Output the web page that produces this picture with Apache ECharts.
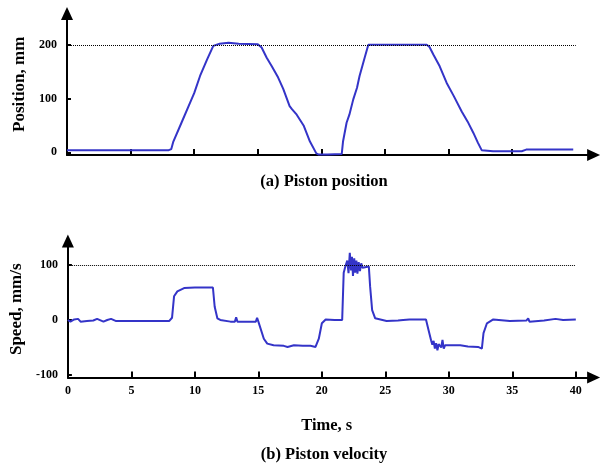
<!DOCTYPE html>
<html>
<head>
<meta charset="utf-8">
<script src="https://cdn.jsdelivr.net/npm/echarts@6/dist/echarts.min.js"></script>
<style>
html,body{margin:0;padding:0;background:#fff;}
#chart{width:612px;height:463px;}
</style>
</head>
<body>
<div id="chart"></div>
<script>
// ---- Data ----
const posTime = [0, 4, 8.0, 8.2, 8.36, 9.0, 9.67, 10.0, 10.46, 11.0, 11.5, 12.0, 12.7, 13.5, 15.0, 15.3, 15.7, 16.1, 16.6, 17.0, 17.5, 17.7, 18.06, 18.6, 19.1, 19.6, 19.76, 20.5, 21.6, 21.7, 21.98, 22.2, 22.5, 22.8, 23.0, 23.4, 23.69, 25, 28.28, 28.5, 28.8, 29.3, 29.85, 30.4, 31.03, 31.5, 31.95, 32.3, 32.6, 33.5, 35.75, 36.1, 39.8];
const posValue = [4, 4, 4, 6, 20, 55, 92, 110, 142, 172, 198, 202, 204, 202, 201, 195, 176, 160, 139, 118, 86, 80, 70, 50, 20, -2, -4, -4, -3, 20, 55, 70, 98, 120, 142, 176, 200, 200, 200, 196, 182, 160, 129, 105, 76, 57, 36, 18, 4, 2, 2, 5, 5];

const velTime = [0, 0.2, 0.5, 0.8, 1.0, 1.5, 2.0, 2.3, 2.8, 3.1, 3.4, 3.8, 5, 7.97, 8.2, 8.36, 8.62, 9.15, 10, 11.42, 11.56, 11.77, 12.0, 12.8, 13.15, 13.25, 13.35, 14.8, 14.9, 15.0, 15.43, 15.7, 16.2, 17.0, 17.3, 17.8, 18.5, 19.1, 19.5, 19.76, 20.0, 20.3, 21.0, 21.6, 21.72, 21.86, 22.0, 22.1, 22.2, 22.3, 22.37, 22.45, 22.55, 22.62, 22.72, 22.8, 22.9, 23.0, 23.1, 23.2, 23.3, 23.7, 23.8, 23.96, 24.2, 25.1, 26.0, 26.4, 26.9, 28.2, 28.4, 28.6, 28.7, 28.8, 28.9, 29.0, 29.1, 29.2, 29.4, 29.5, 29.6, 29.7, 29.85, 30.9, 31.5, 32.3, 32.6, 32.73, 33.0, 33.5, 34.8, 36.1, 36.25, 36.35, 37.5, 38.4, 39, 40];
const velValue = [0, -3, 1, 2, -3, -2, -1, 2, -3, 0, 2, -2, -2, -2, 4, 43, 52, 58, 59, 59, 24, 3, 0, -3, -3, 5, -3, -3, 4, -3, -34, -43, -46, -47, -49, -46, -47, -47, -49, -34, -6, 1, 0, 0, 86, 98, 108, 85, 122, 90, 115, 80, 112, 86, 108, 84, 105, 89, 103, 95, 97, 97, 61, 18, 3, -2, -1, 0, 1, 1, -18, -37, -45, -38, -52, -42, -55, -44, -50, -36, -52, -46, -47, -46, -48, -49, -52, -24, -6, 1, -2, -1, 3, -3, -1, 2, 0, 1];

const xTickValues = [0, 5, 10, 15, 20, 25, 30, 35, 40];
const topXTicks = [5, 10, 15, 20, 25, 30, 35];
const posTicks = [0, 100, 200];
const velTicks = [-100, 0, 100];
const posRef = 200;
const velRef = 100;

// ---- Chart ----
const FONT = 'Liberation Serif';
const lineColor = '#3434C8';
const axisLine = {
  show: true, onZero: false,
  symbol: ['none', 'triangle'], symbolSize: [12, 13],
  lineStyle: { color: '#000', width: 2 }
};
const nameStyle = { fontFamily: FONT, fontSize: 16.5, fontWeight: 'bold', color: '#000' };
function pairs(t, v) { return t.map((x, i) => [x, v[i]]); }

const chart = echarts.init(document.getElementById('chart'), null, { renderer: 'canvas' });
chart.setOption({
  animation: false,
  backgroundColor: '#fff',
  textStyle: { fontFamily: FONT },
  title: [
    { text: '(a) Piston position', left: 319, top: 168, textAlign: 'center', textStyle: nameStyle },
    { text: '(b) Piston velocity', left: 319, top: 441, textAlign: 'center', textStyle: nameStyle }
  ],
  grid: [
    { left: 67, top: 13.6, width: 526.6, height: 141.4 },
    { left: 67, top: 241, width: 526.6, height: 136.5 }
  ],
  xAxis: [
    { gridIndex: 0, type: 'value', min: 0, max: 41.4,
      axisLine: axisLine,
      axisTick: { show: true, inside: true, length: 6, customValues: topXTicks, lineStyle: { color: '#000', width: 2 } },
      axisLabel: { show: false },
      splitLine: { show: false } },
    { gridIndex: 1, type: 'value', min: 0, max: 41.4,
      name: 'Time, s', nameLocation: 'middle', nameGap: 40,
      nameTextStyle: Object.assign({ padding: [0, 8, 0, 0] }, nameStyle),
      axisLine: axisLine,
      axisTick: { show: true, inside: true, length: 6, customValues: xTickValues.slice(1), lineStyle: { color: '#000', width: 2 } },
      axisLabel: { show: true, customValues: xTickValues, margin: 7, fontFamily: FONT, fontSize: 12, fontWeight: 'bold', color: '#000' },
      splitLine: { show: false } }
  ],
  yAxis: [
    { gridIndex: 0, type: 'value', min: -5, max: 258,
      name: 'Position, mm', nameLocation: 'middle', nameGap: 36, nameRotate: 90,
      nameTextStyle: Object.assign({}, nameStyle, { fontSize: 17 }),
      axisLine: axisLine,
      axisTick: { show: true, inside: true, length: 4, customValues: posTicks, lineStyle: { color: '#000', width: 2 } },
      axisLabel: { show: true, customValues: posTicks, margin: 10, fontFamily: FONT, fontSize: 12, fontWeight: 'bold', color: '#000' },
      splitLine: { show: false } },
    { gridIndex: 1, type: 'value', min: -104.5, max: 143.5,
      name: 'Speed, mm/s', nameLocation: 'middle', nameGap: 36, nameRotate: 90,
      nameTextStyle: Object.assign({}, nameStyle, { fontSize: 17 }),
      axisLine: axisLine,
      axisTick: { show: true, inside: true, length: 4, customValues: velTicks, lineStyle: { color: '#000', width: 2 } },
      axisLabel: { show: true, customValues: velTicks, margin: 10, fontFamily: FONT, fontSize: 12, fontWeight: 'bold', color: '#000' },
      splitLine: { show: false } }
  ],
  series: [
    { type: 'line', xAxisIndex: 0, yAxisIndex: 0, data: pairs(posTime, posValue),
      showSymbol: false, clip: false, lineStyle: { color: lineColor, width: 2 }, itemStyle: { color: lineColor },
      z: 3,
      markLine: { silent: true, symbol: ['none', 'none'], label: { show: false },
        lineStyle: { color: '#000', width: 1, type: 'dotted' },
        data: [[{ coord: [0, posRef] }, { coord: [40, posRef] }]] } },
    { type: 'line', xAxisIndex: 1, yAxisIndex: 1, data: pairs(velTime, velValue),
      showSymbol: false, clip: false, lineStyle: { color: lineColor, width: 2 }, itemStyle: { color: lineColor },
      z: 3,
      markLine: { silent: true, symbol: ['none', 'none'], label: { show: false },
        lineStyle: { color: '#000', width: 1, type: 'dotted' },
        data: [[{ coord: [0, velRef] }, { coord: [40, velRef] }]] } }
  ]
});
</script>
</body>
</html>
